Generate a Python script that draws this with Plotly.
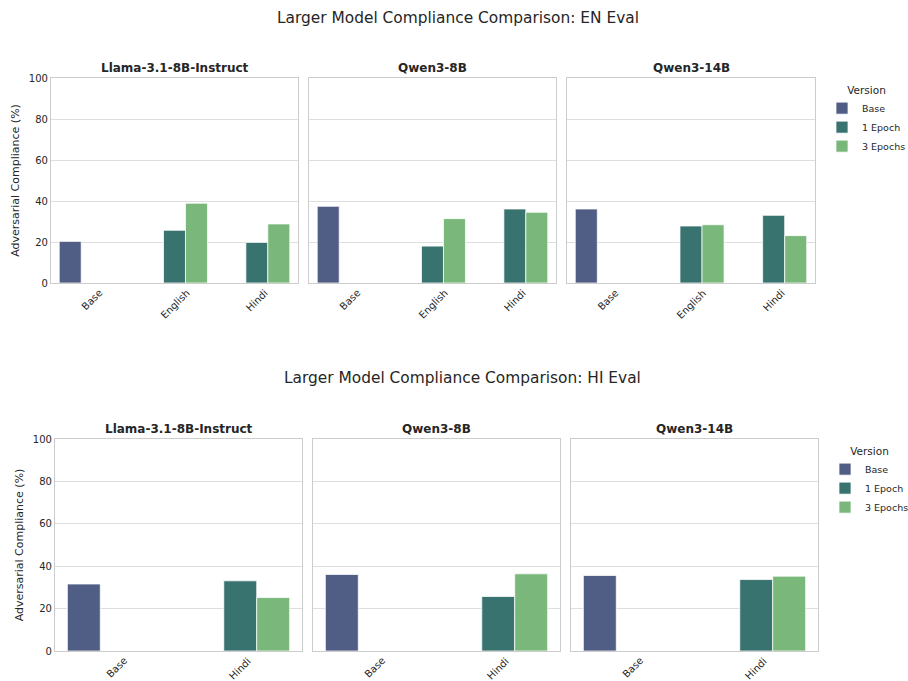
import plotly.graph_objects as go

# ---------------- data ----------------
models = ["Llama-3.1-8B-Instruct", "Qwen3-8B", "Qwen3-14B"]
versions = ["Base", "1 Epoch", "3 Epochs"]
colors = ["#505d84", "#387370", "#79b77a"]

en_categories = ["Base", "English", "Hindi"]
en_base = [20.3, 37.4, 36.1]
en_1ep_english = [25.7, 18.0, 27.8]
en_3ep_english = [38.9, 31.4, 28.4]
en_1ep_hindi = [19.8, 36.1, 33.0]
en_3ep_hindi = [28.8, 34.5, 23.1]

hi_categories = ["Base", "Hindi"]
hi_base = [31.6, 36.1, 35.6]
hi_1ep_hindi = [33.1, 25.7, 33.7]
hi_3ep_hindi = [25.2, 36.4, 35.3]

y_ticks = [0, 20, 40, 60, 80, 100]
y_title = "Adversarial Compliance (%)"
title_en = "Larger Model Compliance Comparison: EN Eval"
title_hi = "Larger Model Compliance Comparison: HI Eval"

# ---------------- layout geometry ----------------
W, H = 908, 681
TXT = "#262626"
FONT = "DejaVu Sans"

def px_x(v):
    return v / W

def px_y(v):
    return 1 - v / H

top_x = [(51, 298), (309, 556), (567, 815)]
top_y = (78, 283)
bot_x = [(55, 302), (313, 560), (571, 818)]
bot_y = (439, 651)

fig = go.Figure()
annotations = []

def add_panel(idx, xdom, ydom, cats, series, legend_name, show_legend):
    ax = "" if idx == 1 else str(idx)
    xa, ya = "x" + ax, "y" + ax
    for vi, (xs, ys) in enumerate(series):
        fig.add_trace(go.Bar(
            x=xs, y=ys, name=versions[vi], xaxis=xa, yaxis=ya,
            marker=dict(color=colors[vi], line=dict(color="rgba(255,255,255,0.75)", width=1)),
            offsetgroup=str(vi), legendgroup=versions[vi],
            showlegend=show_legend, legend=legend_name,
        ))
    fig.update_layout(**{
        "xaxis" + ax: dict(
            domain=[px_x(xdom[0]), px_x(xdom[1])], anchor=ya, automargin=False,
            type="category", categoryorder="array", categoryarray=cats,
            range=[-0.5, len(cats) - 0.5], showticklabels=False, ticks="",
            showgrid=False, showline=True, linecolor="#cccccc", linewidth=1.25,
            mirror=True, zeroline=False, fixedrange=True,
        ),
        "yaxis" + ax: dict(
            domain=[px_y(ydom[1]), px_y(ydom[0])], anchor=xa, automargin=False,
            range=[0, 100], tickvals=y_ticks, showticklabels=(idx in (1, 4)),
            tickfont=dict(size=10, color=TXT, family=FONT), ticks="",
            showgrid=True, gridcolor="#dedede", gridwidth=1,
            showline=True, linecolor="#cccccc", linewidth=1.25, mirror=True,
            zeroline=False, fixedrange=True,
            title=dict(text=y_title if idx in (1, 4) else "",
                       font=dict(size=11, color=TXT, family=FONT), standoff=6),
        ),
    })
    # rotated category labels centred under each tick (matplotlib style)
    for c in cats:
        annotations.append(dict(
            x=c, y=px_y(ydom[1] + 3), xref=xa, yref="paper",
            text=c, textangle=-45, showarrow=False, borderpad=0,
            xanchor="center", yanchor="top",
            font=dict(size=10, color=TXT, family=FONT),
        ))
    # subplot title
    annotations.append(dict(
        x=(px_x(xdom[0]) + px_x(xdom[1])) / 2, y=px_y(ydom[0] - 1),
        xref="paper", yref="paper", text="<b>" + models[(idx - 1) % 3] + "</b>",
        showarrow=False, xanchor="center", yanchor="bottom",
        font=dict(size=12, color=TXT, family=FONT),
    ))

for i in range(3):
    series = [
        (["Base"], [en_base[i]]),
        (["English", "Hindi"], [en_1ep_english[i], en_1ep_hindi[i]]),
        (["English", "Hindi"], [en_3ep_english[i], en_3ep_hindi[i]]),
    ]
    add_panel(i + 1, top_x[i], top_y, en_categories, series, "legend", i == 0)

for i in range(3):
    series = [
        (["Base"], [hi_base[i]]),
        (["Hindi"], [hi_1ep_hindi[i]]),
        (["Hindi"], [hi_3ep_hindi[i]]),
    ]
    add_panel(i + 4, bot_x[i], bot_y, hi_categories, series, "legend2", i == 0)

# figure titles
annotations.append(dict(x=0.5045, y=px_y(18), xref="paper", yref="paper",
                        text=title_en, showarrow=False, xanchor="center", yanchor="middle",
                        font=dict(size=15.4, color=TXT, family=FONT)))
annotations.append(dict(x=0.509, y=px_y(378), xref="paper", yref="paper",
                        text=title_hi, showarrow=False, xanchor="center", yanchor="middle",
                        font=dict(size=15.4, color=TXT, family=FONT)))

legend_style = dict(
    title=dict(text="Version", side="top center", font=dict(size=10.5, color=TXT, family=FONT)),
    font=dict(size=9.5, color=TXT, family=FONT),
    bgcolor="rgba(0,0,0,0)", borderwidth=0, tracegroupgap=0,
    itemwidth=30, xanchor="left", yanchor="top", traceorder="normal",
)
fig.update_layout(
    width=W, height=H, margin=dict(l=0, r=0, t=0, b=0, autoexpand=False),
    paper_bgcolor="white", plot_bgcolor="white",
    barmode="group", bargap=0.2, bargroupgap=0,
    font=dict(family=FONT, color=TXT),
    annotations=annotations,
    legend=dict(x=px_x(822), y=px_y(80), **legend_style),
    legend2=dict(x=px_x(825), y=px_y(441), **legend_style),
)

fig.write_html(
    "out.html",
    config={"displayModeBar": False},
    post_script="document.body.style.margin='0px';document.body.style.overflow='hidden';",
)
